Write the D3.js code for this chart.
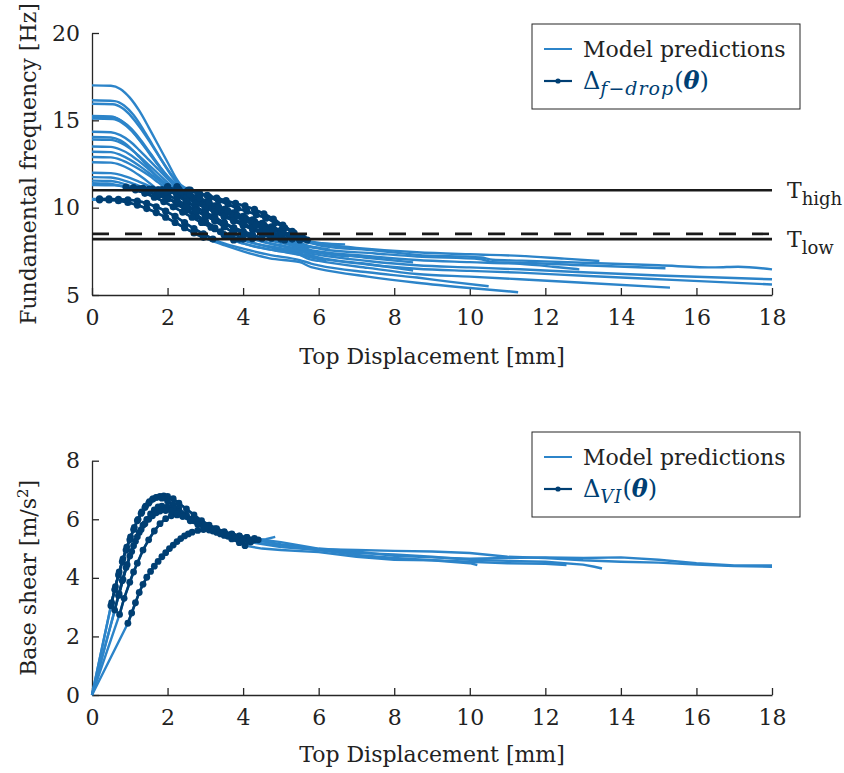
<!DOCTYPE html>
<html>
<head>
<meta charset="utf-8">
<script src="https://cdn.jsdelivr.net/npm/d3@7"></script>
<style>
  body { margin: 0; background: #fff; }
  svg { display: block; font-family: 'DejaVu Serif', serif; }
</style>
</head>
<body>
<div id="chart"></div>
<script>

// ---- top panel: fundamental frequency [Hz] vs top displacement [mm]
const fG = [[0,17.0],[0.5,16.98],[0.75,16.8],[1,16.3],[1.25,15.55],[1.5,14.6],[1.75,13.6],[2,12.6],[2.25,11.6],[2.5,10.9],[2.75,10.55],[3,10.3],[3.25,10.1],[3.5,9.9],[3.75,9.7],[4,9.5],[4.25,9.3],[4.5,9.1],[4.75,8.9],[5,8.7],[5.25,8.45],[5.5,8.2],[5.75,7.98],[6,7.92],[7,7.7],[8.6,7.45],[10,7.33],[11.33,7.24],[12.5,7.08],[13.43,6.95]];
const fJ = [[0,16.15],[0.6,16.1],[0.85,15.85],[1.1,15.3],[1.35,14.5],[1.6,13.6],[1.85,12.7],[2.1,11.9],[2.35,11.3],[2.6,11.0],[2.85,10.8],[3.1,10.6],[3.35,10.4],[3.6,10.2],[3.85,9.95],[4.1,9.8],[4.35,9.6],[4.6,9.4],[4.85,9.15],[5.1,8.85],[5.35,8.55],[5.6,8.25],[5.85,7.95],[6.1,7.8],[7.5,7.55],[8.6,7.3],[10.3,7.15],[10.6,7.02],[11.33,6.97],[13,6.85],[15,6.7],[16.5,6.58],[17.1,6.62],[18,6.47]];
const fH = [[0,15.95],[0.55,15.92],[0.8,15.7],[1.05,15.2],[1.3,14.5],[1.55,13.7],[1.8,12.85],[2.05,12.0],[2.3,11.3],[2.55,10.85],[2.8,10.55],[3.05,10.3],[3.3,10.05],[3.55,9.85],[3.8,9.6],[4.05,9.4],[4.3,9.2],[4.55,9.0],[4.8,8.75],[5.05,8.5],[5.3,8.2],[5.55,7.95],[5.8,7.75],[6.1,7.62],[7.5,7.38],[8.6,7.2],[10.3,7.05],[10.6,6.88],[11.33,6.85],[13,6.7],[15.18,6.53]];
const fS = [[0,15.2],[0.55,15.17],[0.8,14.95],[1.05,14.5],[1.3,13.85],[1.55,13.1],[1.8,12.35],[2.05,11.7],[2.3,11.25],[2.55,11.0],[2.8,10.85],[3.05,10.7],[3.3,10.55],[3.55,10.4],[3.8,10.25],[4.05,10.1],[4.3,9.9],[4.55,9.65],[4.8,9.35],[5.05,9.0],[5.3,8.65],[5.55,8.3],[5.7,8.15],[5.9,7.95],[6.3,7.85]];
const fF = [[0,15.25],[0.5,15.22],[0.75,15.0],[1,14.55],[1.25,13.9],[1.5,13.2],[1.75,12.45],[2,11.75],[2.25,11.2],[2.5,10.8],[2.75,10.5],[3,10.25],[3.25,10.0],[3.5,9.75],[3.75,9.5],[4,9.3],[4.25,9.05],[4.5,8.8],[4.75,8.55],[5,8.3],[5.25,8.05],[5.5,7.85],[5.75,7.6],[6,7.5],[7.2,7.25],[8.6,7.0],[10,6.88],[11.33,6.78],[12.2,6.62],[12.9,6.47]];
const fA = [[0,15.1],[0.55,15.07],[0.8,14.85],[1.05,14.4],[1.3,13.75],[1.55,13.0],[1.8,12.3],[2.05,11.6],[2.3,11.05],[2.55,10.7],[2.8,10.45],[3.05,10.2],[3.3,10.0],[3.55,9.8],[3.8,9.6],[4.05,9.4],[4.3,9.2],[4.55,9.0],[4.8,8.8],[5.05,8.6],[5.3,8.4],[5.55,8.22],[5.8,8.05],[6.1,7.97],[6.7,7.9]];
const fB = [[0,14.35],[0.5,14.32],[0.75,14.15],[1,13.8],[1.25,13.3],[1.5,12.75],[1.75,12.2],[2,11.65],[2.25,11.15],[2.5,10.75],[2.75,10.4],[3,10.1],[3.25,9.85],[3.5,9.6],[3.75,9.35],[4,9.1],[4.25,8.85],[4.5,8.6],[4.75,8.35],[5,8.12],[5.25,7.95],[5.5,7.75],[5.75,7.55],[6,7.45],[7.2,7.15],[8.5,6.87]];
const fQ = [[0,14.05],[0.5,14.02],[0.75,13.85],[1,13.45],[1.25,12.9],[1.5,12.3],[1.75,11.7],[2,11.15],[2.25,10.75],[2.5,10.4],[2.75,10.05],[3,9.75],[3.25,9.45],[3.5,9.15],[3.75,8.85],[4,8.6],[4.25,8.35],[4.5,8.12],[4.75,7.95],[5,7.85],[5.5,7.6],[6,7.4],[6.8,7.2]];
const fK = [[0,13.9],[0.5,13.88],[0.75,13.72],[1,13.4],[1.25,12.95],[1.5,12.45],[1.75,11.95],[2,11.45],[2.25,11.0],[2.5,10.6],[2.75,10.3],[3,10.0],[3.25,9.75],[3.5,9.5],[3.75,9.25],[4,9.0],[4.25,8.75],[4.5,8.5],[4.75,8.25],[5,8.05],[5.25,7.85],[5.5,7.65],[5.75,7.4],[6,7.3],[7.3,6.95],[8.6,6.7],[10,6.58],[11.33,6.47],[13,6.3],[15,6.12],[18,5.9]];
const fX1 = [[0,13.5],[0.5,13.48],[0.75,13.33],[1,13.05],[1.25,12.65],[1.5,12.2],[1.75,11.75],[2,11.3],[2.25,10.95],[2.5,10.65],[2.75,10.4],[3,10.15],[3.25,9.95],[3.5,9.75],[3.75,9.55],[4,9.35],[4.25,9.15],[4.5,8.95],[4.75,8.75],[5,8.55],[5.25,8.35],[5.5,8.15],[5.75,8.0]];
const fX2 = [[0,13.2],[0.5,13.18],[0.75,13.02],[1,12.75],[1.25,12.4],[1.5,12.0],[1.75,11.6],[2,11.2],[2.25,10.85],[2.5,10.55],[2.75,10.25],[3,10.0],[3.25,9.75],[3.5,9.5],[3.75,9.25],[4,9.05],[4.25,8.85],[4.5,8.6],[4.75,8.4],[5,8.2],[5.25,8.0],[5.5,7.85],[5.75,7.75],[6,7.7]];
const fC = [[0,12.9],[0.5,12.88],[0.75,12.75],[1,12.5],[1.25,12.2],[1.5,11.85],[1.75,11.45],[2,11.05],[2.25,10.7],[2.5,10.35],[2.75,10.0],[3,9.7],[3.25,9.4],[3.5,9.1],[3.75,8.8],[4,8.5],[4.25,8.22],[4.5,8.05],[4.75,7.92],[5,7.8],[5.25,7.7],[5.5,7.55],[5.75,7.3],[6,7.15],[7.2,6.8],[8.5,6.4]];
const fP = [[0,12.6],[0.5,12.58],[0.75,12.45],[1,12.2],[1.25,11.85],[1.5,11.45],[1.75,11.0],[2,10.6],[2.25,10.2],[2.5,9.85],[2.75,9.5],[3,9.15],[3.25,8.8],[3.5,8.45],[3.75,8.15],[4,7.95],[4.5,7.7],[5,7.5],[5.5,7.3],[6.2,6.95]];
const fL = [[0,12.0],[0.5,11.98],[0.75,11.88],[1,11.7],[1.25,11.48],[1.5,11.25],[1.75,11.02],[2,10.75],[2.25,10.45],[2.5,10.15],[2.75,9.85],[3,9.55],[3.25,9.25],[3.5,8.9],[3.75,8.55],[4,8.2],[4.25,8.0],[4.5,7.85],[4.75,7.72],[5,7.6],[5.5,7.4],[5.75,7.2],[6,7.1],[7.3,6.75],[8.6,6.5],[10,6.38],[11.33,6.28],[13,6.1],[15.5,5.85],[18,5.6]];
const fI = [[0,11.75],[0.5,11.73],[0.75,11.62],[1,11.45],[1.25,11.25],[1.5,11.05],[1.75,10.82],[2,10.55],[2.25,10.25],[2.5,9.95],[2.75,9.6],[3,9.25],[3.25,8.85],[3.5,8.45],[3.75,8.12],[4,7.95],[4.25,7.8],[4.5,7.68],[4.75,7.58],[5,7.5],[5.5,7.3],[5.75,7.05],[6,6.95],[7.3,6.55],[8.6,6.2],[10,6.05],[11.33,5.9],[13,5.7],[15.3,5.42]];
const fM = [[0,11.55],[0.5,11.53],[0.75,11.42],[1,11.25],[1.25,11.08],[1.5,10.9],[1.75,10.7],[2,10.5],[2.25,10.28],[2.5,10.05],[2.75,9.8],[3,9.55],[3.25,9.3],[3.5,9.08],[3.75,8.85],[4,8.65],[4.25,8.45],[4.5,8.25],[4.75,8.1],[5,7.98],[5.25,7.88],[5.5,7.8],[5.7,7.75]];
const fR = [[0,11.4],[0.4,11.38],[0.65,11.3],[0.9,11.18],[1.15,11.02],[1.4,10.82],[1.65,10.6],[1.9,10.35],[2.15,10.05],[2.4,9.75],[2.65,9.45],[2.9,9.15],[3.15,8.88],[3.4,8.62],[3.65,8.4],[3.9,8.2],[4.2,8.0],[4.6,7.82],[5.2,7.62],[5.6,7.45]];
const fN = [[0,11.3],[0.6,11.28],[0.85,11.22],[1.1,11.15],[1.35,11.1],[1.6,11.07],[1.85,11.03],[2.1,10.98],[2.35,10.9],[2.6,10.75],[2.85,10.55],[3.1,10.3],[3.35,10.05],[3.6,9.8],[3.85,9.55],[4.1,9.3],[4.35,9.0],[4.6,8.7],[4.85,8.4],[5.1,8.15],[5.35,7.98],[5.6,7.85],[5.85,7.75],[6.3,7.6]];
const fD = [[0,10.5],[0.2,10.5],[0.45,10.5],[0.7,10.48],[0.95,10.45],[1.2,10.38],[1.45,10.25],[1.7,10.05],[1.95,9.8],[2.2,9.5],[2.45,9.15],[2.7,8.8],[2.95,8.5],[3.2,8.2],[3.5,7.95],[4,7.65],[4.7,7.3],[5.5,7.0],[5.8,6.8],[6,6.7],[7.3,6.3],[8.6,6.0],[9.5,5.75],[10.5,5.5]];
const fE = [[0,10.45],[0.2,10.45],[0.45,10.44],[0.7,10.4],[0.95,10.3],[1.2,10.15],[1.45,9.95],[1.7,9.72],[1.95,9.45],[2.2,9.15],[2.45,8.85],[2.7,8.55],[2.95,8.3],[3.2,8.08],[3.5,7.85],[4,7.5],[4.7,7.1],[5.5,6.88],[5.8,6.6],[6,6.5],[7.3,6.05],[8.6,5.7],[10,5.4],[11.28,5.16]];

const modelFreq = [fG, fJ, fH, fS, fF, fA, fB, fQ, fK, fX1, fX2, fC, fP, fL, fI, fM, fR, fN, fD, fE];

// band used for the f-drop markers, and threshold lines
const fMarkHigh = 11.2;
const fMarkLow = 8.15;
const fMarkStart = 0.2;
const tHigh = 11.0;
const tLow = 8.2;
const tDash = 8.5;

// ---- bottom panel: base shear [m/s2] vs top displacement [mm]
const vi1 = [[0.5,3.05],[0.6,3.6],[0.7,4.1],[0.8,4.55],[0.9,4.95],[1.0,5.3],[1.1,5.65],[1.2,5.95],[1.3,6.2],[1.4,6.4],[1.5,6.55],[1.6,6.68],[1.7,6.75],[1.8,6.78],[1.9,6.8],[2.0,6.78],[2.15,6.7],[2.3,6.55],[2.5,6.35],[2.7,6.15],[2.9,5.95],[3.1,5.8],[3.3,5.68],[3.5,5.58],[3.7,5.5],[3.9,5.43],[4.1,5.38]];
const vi2 = [[0.52,3.15],[0.62,3.7],[0.72,4.2],[0.82,4.65],[0.92,5.05],[1.02,5.4],[1.12,5.72],[1.22,6.0],[1.32,6.25],[1.42,6.45],[1.52,6.6],[1.62,6.7],[1.72,6.75],[1.85,6.72],[2.0,6.62],[2.15,6.5],[2.3,6.35],[2.5,6.15],[2.7,5.98],[2.9,5.85],[3.1,5.72],[3.3,5.62],[3.5,5.52],[3.7,5.45],[3.9,5.38],[4.1,5.33],[4.3,5.3],[4.4,5.3]];
const vi3 = [[0.72,3.45],[0.82,3.95],[0.93,4.45],[1.05,4.9],[1.15,5.25],[1.25,5.55],[1.35,5.8],[1.45,6.0],[1.55,6.18],[1.65,6.32],[1.75,6.42],[1.85,6.45],[2.0,6.42],[2.15,6.35],[2.3,6.25],[2.5,6.1],[2.7,5.95],[2.9,5.82],[3.1,5.72],[3.3,5.62],[3.5,5.55],[3.7,5.48],[3.9,5.42],[4.1,5.38],[4.3,5.35]];
const vi4 = [[0.73,2.75],[0.85,3.3],[1.0,3.85],[1.1,4.2],[1.2,4.5],[1.35,4.95],[1.5,5.3],[1.65,5.6],[1.8,5.85],[1.95,6.02],[2.1,6.12],[2.25,6.15],[2.4,6.1],[2.6,6.0],[2.8,5.9],[3.0,5.8],[3.25,5.68],[3.5,5.55],[3.75,5.42],[4.0,5.3],[4.2,5.22]];
const vi5 = [[0.95,2.45],[1.05,2.8],[1.15,3.15],[1.25,3.5],[1.35,3.78],[1.45,4.02],[1.55,4.22],[1.65,4.4],[1.75,4.56],[1.85,4.72],[1.95,4.86],[2.05,5.0],[2.15,5.12],[2.25,5.24],[2.35,5.34],[2.45,5.43],[2.55,5.5],[2.65,5.56],[2.8,5.62],[2.95,5.65],[3.1,5.63],[3.3,5.55],[3.5,5.45],[3.7,5.33],[3.9,5.2],[4.05,5.1]];
const vi6 = [[0.6,2.9],[0.7,3.4],[0.8,3.9],[0.9,4.35],[1.0,4.75],[1.1,5.1],[1.2,5.4],[1.3,5.65],[1.4,5.85],[1.5,6.0],[1.6,6.12],[1.7,6.22],[1.8,6.28],[1.95,6.3],[2.1,6.28],[2.25,6.2],[2.4,6.1],[2.6,5.95],[2.8,5.82],[3.0,5.7],[3.2,5.6],[3.4,5.5],[3.6,5.42],[3.8,5.35],[4.0,5.28],[4.15,5.25]];

const tail1 = [[4.5,5.25],[5,5.15],[6,4.98],[7,4.95],[8,4.92],[9,4.9],[10,4.85],[11,4.72],[12,4.68],[13,4.6],[14,4.55],[15,4.52],[16,4.45],[17,4.4],[18,4.38]];
const tail2 = [[4.6,5.32],[4.85,5.4]];
const tail3 = [[4.5,5.3],[5,5.22],[6,5.0],[7,4.9],[8,4.75],[9,4.7],[10,4.65],[11,4.68],[12,4.7],[13,4.68],[14,4.7],[15,4.62],[16,4.5],[17,4.42],[18,4.42]];
const tail4 = [[4.5,5.15],[5,5.05],[6,4.95],[7,4.85],[8,4.8],[9,4.72],[10,4.62],[11,4.58],[12,4.55],[13,4.45],[13.3,4.38],[13.5,4.32]];
const tail5 = [[4.5,5.0],[5,4.95],[6,4.88],[7,4.72],[8,4.62],[9,4.6],[10,4.55],[11,4.5],[12,4.48],[12.56,4.44]];
const tail6 = [[4.5,5.18],[5,5.1],[6,4.95],[7,4.78],[8,4.68],[9,4.6],[10,4.5],[10.2,4.44]];

const viCurves = [vi1, vi2, vi3, vi4, vi5, vi6];
const viTails = [tail1, tail2, tail3, tail4, tail5, tail6];

// ticks
const dispTicks = [0, 2, 4, 6, 8, 10, 12, 14, 16, 18];
const freqTicks = [5, 10, 15, 20];
const shearTicks = [0, 2, 4, 6, 8];

const lightBlue = '#2c84c9';
const darkBlue = '#003f73';
const axisColor = '#262626';

//1 - canvas
const svg = d3.select('#chart').append('svg')
    .attr('width', 844)
    .attr('height', 773);

//2 - scales
const xTop = d3.scaleLinear().domain([0, 18]).range([92, 772]);
const yTop = d3.scaleLinear().domain([5, 20]).range([295, 33]);
const xBot = d3.scaleLinear().domain([0, 18]).range([92, 772]);
const yBot = d3.scaleLinear().domain([0, 8]).range([695, 460.7]);

function drawAxes(x, y, yTicks) {
    const gx = svg.append('g')
        .attr('transform', `translate(0,${y.range()[0]})`)
        .call(d3.axisBottom(x).tickValues(dispTicks).tickSizeInner(-7).tickSizeOuter(0).tickPadding(14));
    const gy = svg.append('g')
        .attr('transform', `translate(${x.range()[0]},0)`)
        .call(d3.axisLeft(y).tickValues(yTicks).tickSizeInner(-7).tickSizeOuter(0).tickPadding(12));
    [gx, gy].forEach(g => {
        g.attr('color', axisColor)
            .attr('font-family', "'DejaVu Serif', serif")
            .attr('font-size', 22);
        g.selectAll('path, line').attr('stroke-width', 1.3);
        g.selectAll('text').attr('fill', '#222');
    });
}

function lineFor(x, y, curve) {
    return d3.line()
        .x(d => x(d[0]))
        .y(d => y(d[1]))
        .curve(curve);
}

function drawDark(g, pts, x, y, curve, r) {
    g.append('path')
        .attr('d', lineFor(x, y, curve)(pts))
        .attr('fill', 'none')
        .attr('stroke', darkBlue)
        .attr('stroke-width', 2.6);
    g.selectAll(null)
        .data(pts)
        .join('circle')
        .attr('cx', d => x(d[0]))
        .attr('cy', d => y(d[1]))
        .attr('r', r)
        .attr('fill', darkBlue);
}

function drawLegend(top, label, subSize) {
    const g = svg.append('g');
    g.append('rect')
        .attr('x', 532).attr('y', top)
        .attr('width', 268).attr('height', 85)
        .attr('fill', '#fff')
        .attr('stroke', axisColor)
        .attr('stroke-width', 1);
    g.append('line')
        .attr('x1', 544).attr('x2', 572)
        .attr('y1', top + 25).attr('y2', top + 25)
        .attr('stroke', lightBlue).attr('stroke-width', 2);
    g.append('text')
        .attr('x', 583).attr('y', top + 33)
        .attr('font-size', 22).attr('fill', '#222')
        .text('Model predictions');
    g.append('line')
        .attr('x1', 544).attr('x2', 572)
        .attr('y1', top + 57).attr('y2', top + 57)
        .attr('stroke', darkBlue).attr('stroke-width', 2.2);
    g.append('circle')
        .attr('cx', 558).attr('cy', top + 57).attr('r', 2.6)
        .attr('fill', darkBlue);
    const t = g.append('text')
        .attr('x', 583).attr('y', top + 65)
        .attr('font-size', 24).attr('fill', darkBlue);
    t.append('tspan').text('Δ');
    t.append('tspan').attr('dy', 6).attr('font-size', subSize).attr('font-style', 'italic')
        .attr('letter-spacing', 1).text(label);
    t.append('tspan').attr('dy', -6).text('(');
    t.append('tspan').attr('font-weight', 'bold').attr('font-style', 'italic').text('θ');
    t.append('tspan').text(')');
}

// ---------- top panel
drawAxes(xTop, yTop, freqTicks);

const topLine = lineFor(xTop, yTop, d3.curveMonotoneX);
const gTop = svg.append('g');
gTop.selectAll('path.model')
    .data(modelFreq)
    .join('path')
    .attr('class', 'model')
    .attr('d', topLine)
    .attr('fill', 'none')
    .attr('stroke', lightBlue)
    .attr('stroke-width', 2.4);

modelFreq.forEach(c => {
    const marked = c.filter(d => d[0] >= fMarkStart && d[1] <= fMarkHigh && d[1] >= fMarkLow);
    drawDark(gTop, marked, xTop, yTop, d3.curveMonotoneX, 3.6);
});

// threshold lines
[tHigh, tLow].forEach(v => {
    svg.append('line')
        .attr('x1', xTop(0)).attr('x2', xTop(18))
        .attr('y1', yTop(v)).attr('y2', yTop(v))
        .attr('stroke', '#1a1a1a').attr('stroke-width', 2.6);
});
svg.append('line')
    .attr('x1', xTop(0)).attr('x2', xTop(18))
    .attr('y1', yTop(tDash)).attr('y2', yTop(tDash))
    .attr('stroke', '#1a1a1a').attr('stroke-width', 2.6)
    .attr('stroke-dasharray', '17,16');

[[tHigh, 'high'], [tLow, 'low']].forEach(([v, s]) => {
    const t = svg.append('text')
        .attr('x', 787).attr('y', yTop(v) + 8)
        .attr('font-size', 22).attr('fill', '#222');
    t.append('tspan').text('T');
    t.append('tspan').attr('dy', 7).attr('font-size', 18).text(s);
});

svg.append('text')
    .attr('x', 432).attr('y', 364)
    .attr('text-anchor', 'middle')
    .attr('font-size', 22).attr('fill', '#222')
    .text('Top Displacement [mm]');
svg.append('text')
    .attr('transform', `translate(36,${(yTop(5) + yTop(20)) / 2}) rotate(-90)`)
    .attr('text-anchor', 'middle')
    .attr('font-size', 22).attr('fill', '#222')
    .text('Fundamental frequency [Hz]');

drawLegend(24, 'f\u2212drop', 19);

// ---------- bottom panel
drawAxes(xBot, yBot, shearTicks);

const botLine = lineFor(xBot, yBot, d3.curveLinear);
const gBot = svg.append('g');
viCurves.forEach((c, i) => {
    gBot.append('path')
        .attr('d', botLine([[0, 0]].concat(c, viTails[i])))
        .attr('fill', 'none')
        .attr('stroke', lightBlue)
        .attr('stroke-width', 2.4);
});
viCurves.forEach(c => drawDark(gBot, c, xBot, yBot, d3.curveLinear, 3.4));

svg.append('text')
    .attr('x', 432).attr('y', 762)
    .attr('text-anchor', 'middle')
    .attr('font-size', 22).attr('fill', '#222')
    .text('Top Displacement [mm]');
const yl = svg.append('text')
    .attr('transform', `translate(36,${(yBot(0) + yBot(8)) / 2}) rotate(-90)`)
    .attr('text-anchor', 'middle')
    .attr('font-size', 22).attr('fill', '#222');
yl.append('tspan').text('Base shear [m/s');
yl.append('tspan').attr('dy', -8).attr('font-size', 15).text('2');
yl.append('tspan').attr('dy', 8).text(']');

drawLegend(432, 'VI', 18);

</script>
</body>
</html>
